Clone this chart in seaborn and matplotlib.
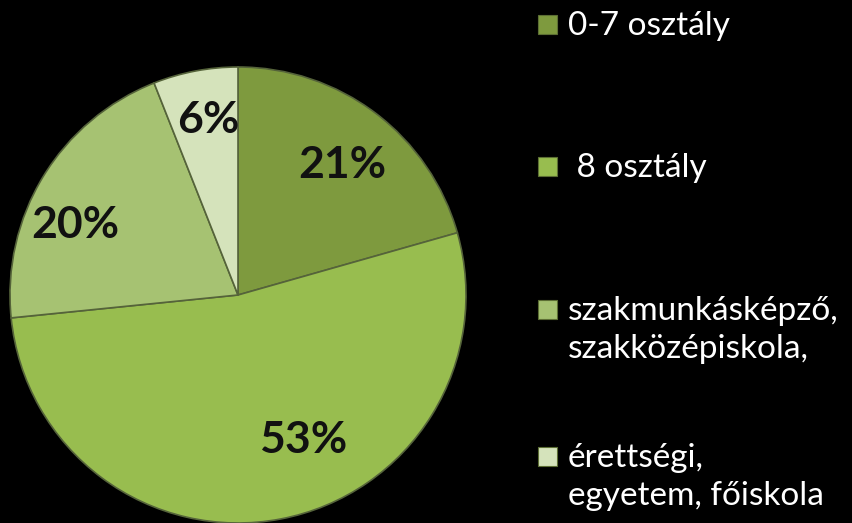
import matplotlib
matplotlib.use("Agg")
import matplotlib.pyplot as plt
from matplotlib.patches import Rectangle
import numpy as np
import seaborn as sns

# adatok
categories = ["0-7 osztály", " 8 osztály", "szakmunkásképző,\nszakközépiskola,", "érettségi,\negyetem, főiskola"]
shares = [20.6, 52.8, 20.6, 6.0]
pct_labels = ["21%", "53%", "20%", "6%"]
colors = ["#7e9a3e", "#98bd4f", "#a6c272", "#d5e3bb"]

# címkék helye (szög eltolás fokban, sugár)
label_shift = [1.6, -13.3, -8.1, 1.1]
label_radius = [0.730, 0.697, 0.778, 0.779]

sns.set_style("dark")
plt.rcParams['font.family'] = ['Lato', 'DejaVu Sans']

fig = plt.figure(figsize=(8.52, 5.23), dpi=100, facecolor="black")
ax = fig.add_axes([10 / 852, 0, 456 / 852, 456 / 523])
ax.set_facecolor("black")

wedges, _ = ax.pie(shares, colors=colors, startangle=90, counterclock=False,
                   radius=1, wedgeprops=dict(edgecolor="#55633a", linewidth=1.2))
ax.set_xlim(-1, 1)
ax.set_ylim(-1, 1)
ax.axis("off")

# százalék címkék
start = 0
for val, lab, sh, r in zip(shares, pct_labels, label_shift, label_radius):
    mid = start + val / 2 * 3.6 + sh
    theta = np.deg2rad(90 - mid)
    ax.text(r * np.cos(theta), r * np.sin(theta), lab, ha="center", va="center",
            fontsize=32, fontweight="bold", color="#111111")
    start += val * 3.6

# jelmagyarázat
baselines = [35, 177, 320, 467]
line_gap = 38
for cat, col, base in zip(categories, colors, baselines):
    fig.patches.append(Rectangle((538 / 852, 1 - (base - 1) / 523), 19 / 852, 19 / 523,
                                 transform=fig.transFigure, facecolor=col,
                                 edgecolor="#5c6e34", linewidth=0.8))
    for i, line in enumerate(cat.split("\n")):
        fig.text(568 / 852, 1 - (base + i * line_gap) / 523, line, ha="left",
                 va="baseline", fontsize=24, color="white")

fig.savefig("out.png", dpi=100, facecolor="black")
